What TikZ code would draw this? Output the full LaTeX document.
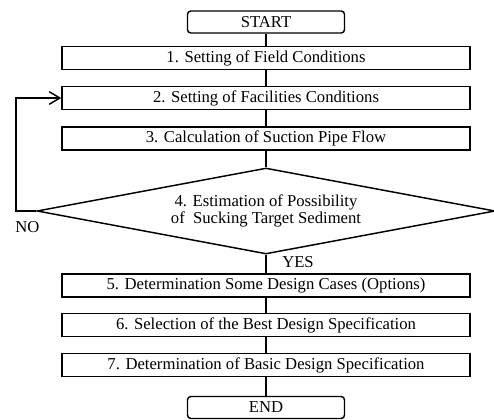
\documentclass[tikz,border=0pt]{standalone}
\usepackage{fontspec}
\setmainfont{Liberation Serif}
\usepackage{tikz}
\usetikzlibrary{positioning,arrows.meta,shapes.geometric}
\tikzset{
  stepbox/.style={draw,line width=1.1pt,minimum width=306pt,minimum height=17.25pt,inner sep=0pt,align=center,font=\fontsize{12.5pt}{12.75pt}\selectfont},
  termbox/.style={draw,line width=1.1pt,rounded corners=2.5pt,minimum width=117.75pt,minimum height=16.5pt,inner sep=0pt,font=\fontsize{12.5pt}{12.75pt}\selectfont},
  decbox/.style={draw,diamond,line width=1.1pt,shape aspect=5.3,minimum width=343.5pt,minimum height=64.5pt,inner sep=0pt,align=center,font=\fontsize{12.5pt}{12.75pt}\selectfont},
  lbl/.style={inner sep=0pt,font=\fontsize{12.5pt}{12.75pt}\selectfont},
  link/.style={line width=1.1pt},
  loopback/.style={line width=1.1pt,-{Straight Barb[length=8pt,width=9.5pt,line width=1.1pt]}},
}
\begin{document}
\begin{tikzpicture}[x=0.75pt,y=-0.75pt]
  \useasboundingbox (0,0) rectangle (494,419);
  % terminals and steps
  \node[termbox] (start) at (266,22) {START};
  \node[stepbox] (s1) at (266,58)  {1. Setting of Field Conditions};
  \node[stepbox] (s2) at (266,98)  {2. Setting of Facilities Conditions};
  \node[stepbox] (s3) at (266,138.5) {3. Calculation of Suction Pipe Flow};
  \node[decbox]  (dec) at (266,211) {4. Estimation of Possibility\\of \ Sucking Target Sediment};
  \node[stepbox] (s5) at (266,285.5) {5. Determination Some Design Cases (Options)};
  \node[stepbox] (s6) at (266,325) {6. Selection of the Best Design Specification};
  \node[stepbox] (s7) at (266,365) {7. Determination of Basic Design Specification};
  \node[termbox] (end) at (266,407.5) {END};
  % main line
  \draw[link] (start) -- (s1);
  \draw[link] (s1) -- (s2);
  \draw[link] (s2) -- (s3);
  \draw[link] (s3) -- (dec);
  \draw[link] (dec) -- (s5);
  \draw[link] (s5) -- (s6);
  \draw[link] (s6) -- (s7);
  \draw[link] (s7) -- (end);
  % NO loop
  \coordinate (back) at (16,211);
  \draw[loopback] (dec.west) -- (back) |- (s2.west);
  \node[lbl,anchor=west] (no) at (15,227) {NO};
  \node[lbl,anchor=west] (yes) at (282,262) {YES};
\end{tikzpicture}
\end{document}
